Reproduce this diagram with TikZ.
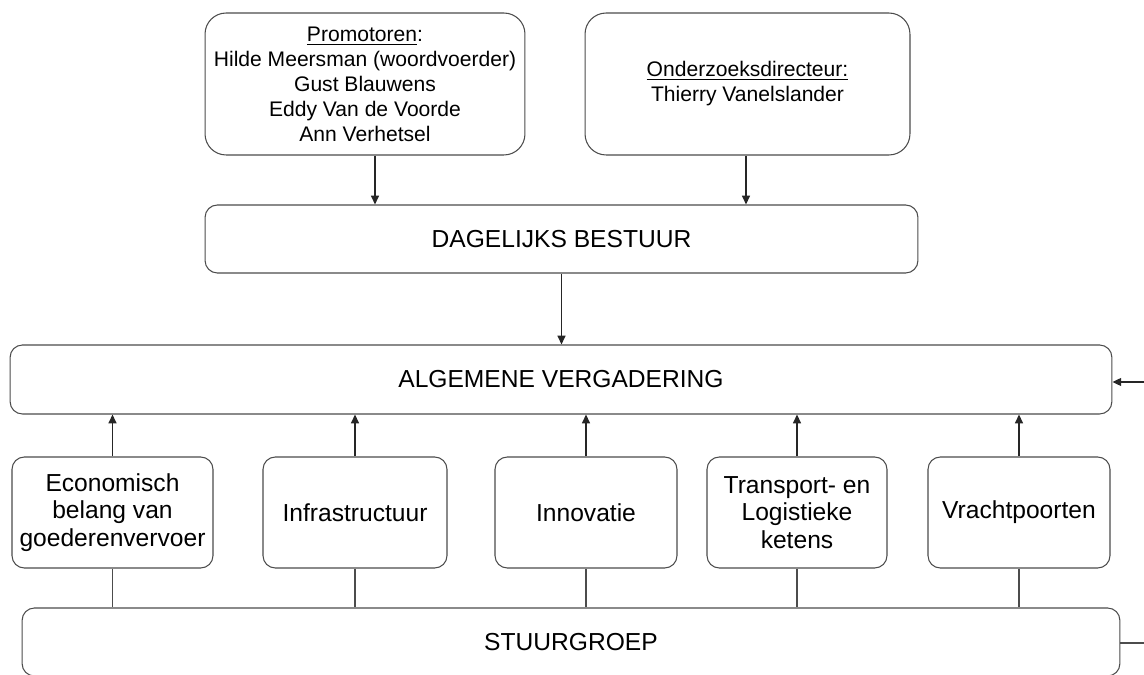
\documentclass[tikz,border=0pt]{standalone}
\usepackage{fontspec}
\setmainfont{Liberation Sans}
\usetikzlibrary{arrows.meta}

\begin{document}
\begin{tikzpicture}[x=0.02cm, y=-0.02cm,
  box/.style={draw=black!70, line width=0.6pt, rounded corners=7pt, align=center, inner sep=1pt},
  topbox/.style={box, rounded corners=12pt, font=\fontsize{12}{14.2}\selectfont},
  bigbox/.style={box, font=\fontsize{14}{16}\selectfont},
  subbox/.style={box, minimum height=2.22cm, font=\fontsize{14}{15.6}\selectfont},
  arr/.style={-{Triangle[length=5pt,width=4.5pt]}, line width=0.9pt, black!85},
  lnk/.style={line width=0.6pt, black!70}]
  \useasboundingbox (0,0) rectangle (1144,675);
  % top level
  \node (prom) at (365,84) [topbox, minimum width=6.4cm, minimum height=2.84cm]
    {\underline{Promotoren}:\\Hilde Meersman (woordvoerder)\\Gust Blauwens\\Eddy Van de Voorde\\Ann Verhetsel};
  \node (odir) at (747.5,84) [topbox, minimum width=6.5cm, minimum height=2.84cm]
    {\underline{Onderzoeksdirecteur:}\\Thierry Vanelslander};
  \node (dagb) at (561.5,239) [bigbox, minimum width=14.26cm, minimum height=1.36cm] {DAGELIJKS BESTUUR};
  \node (algv) at (561,379.5) [bigbox, minimum width=22.04cm, minimum height=1.38cm] {ALGEMENE VERGADERING};
  % werkgroepen
  \node (econ) at (112.5,512.5) [subbox, minimum width=4.02cm] {Economisch\\belang van\\goederenvervoer};
  \node (infra) at (355,512.5) [subbox, minimum width=3.68cm] {Infrastructuur};
  \node (innov) at (586,512.5) [subbox, minimum width=3.64cm] {Innovatie};
  \node (trans) at (797,512.5) [subbox, minimum width=3.6cm] {Transport- en\\Logistieke\\ketens};
  \node (vracht) at (1019,512.5) [subbox, minimum width=3.64cm] {Vrachtpoorten};
  \node (stuur) at (571,642) [bigbox, minimum width=21.96cm, minimum height=1.36cm] {STUURGROEP};
  \coordinate (rin) at (1144,382);
  \coordinate (rout) at (1144,643);

  \draw[arr] ([xshift=0.2cm]prom.south) -- ([xshift=0.2cm]prom.south |- dagb.north);
  \draw[arr] ([xshift=-0.03cm]odir.south) -- ([xshift=-0.03cm]odir.south |- dagb.north);
  \draw[arr] (dagb.south) -- (dagb.south |- algv.north);
  \foreach \g in {econ,infra,innov,trans,vracht} {
    \draw[arr] (\g.north) -- (\g.north |- algv.south);
    \draw[lnk] (\g.south) -- (\g.south |- stuur.north);
  }
  \draw[arr] (rin) -- (rin -| algv.east);
  \draw[lnk] (rout) -- (rout -| stuur.east);
\end{tikzpicture}
\end{document}
